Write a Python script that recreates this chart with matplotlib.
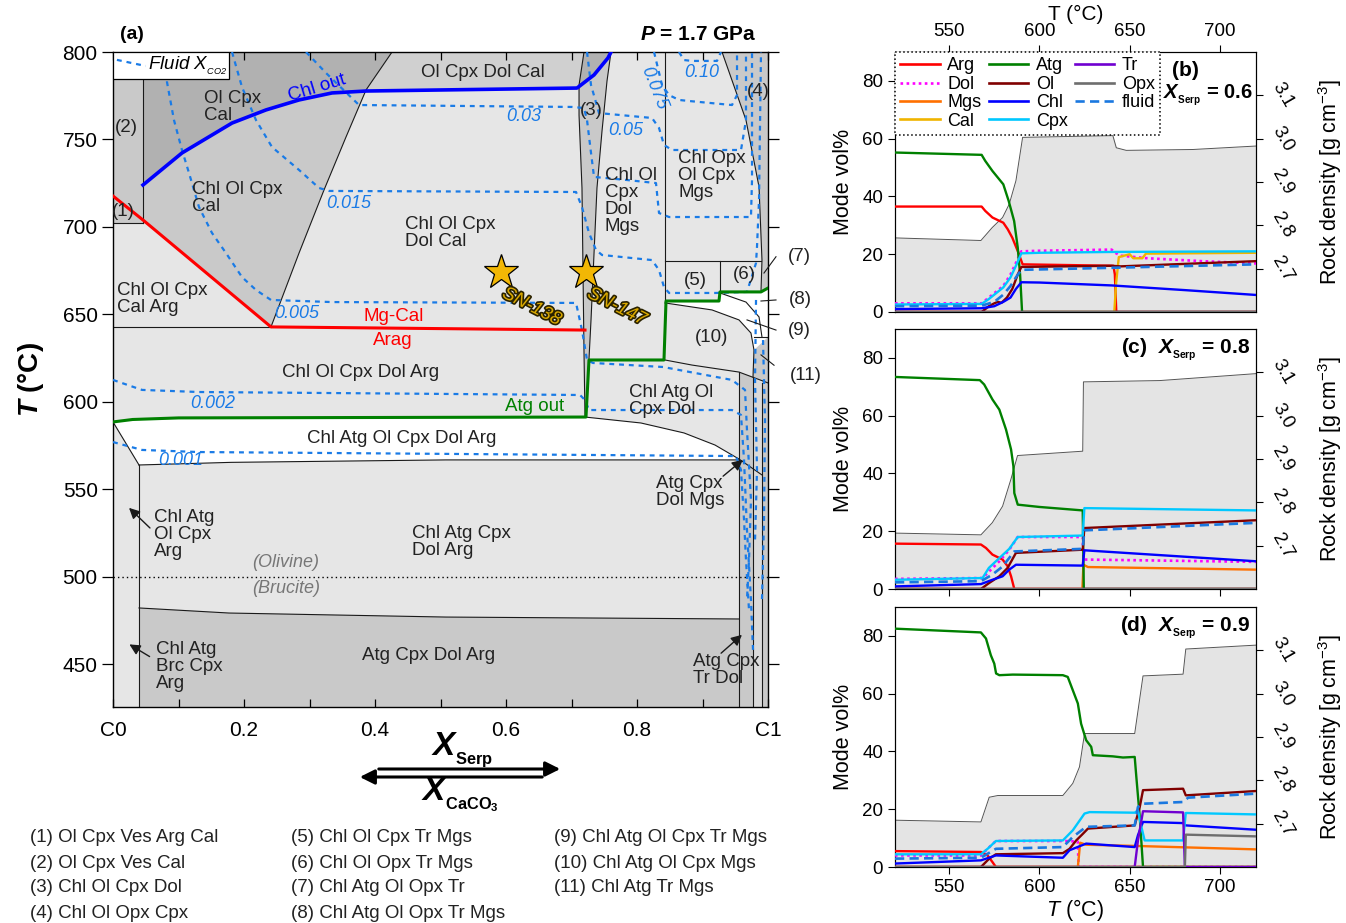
import matplotlib
matplotlib.use('Agg')
import matplotlib.pyplot as plt
import numpy as np
from matplotlib.patches import Polygon, Rectangle
from matplotlib.lines import Line2D
import matplotlib.patheffects as pe

plt.rcParams['font.family'] = ['Liberation Sans', 'DejaVu Sans']
plt.rcParams['mathtext.fontset'] = 'custom'
plt.rcParams['mathtext.rm'] = 'Liberation Sans'
plt.rcParams['mathtext.it'] = 'Liberation Sans:italic'
plt.rcParams['mathtext.bf'] = 'Liberation Sans:bold'
try:
    plt.rcParams['mathtext.bfit'] = 'Liberation Sans:italic:bold'
except KeyError:
    pass

# ---------------- Panel (a) data: phase boundaries (X_Serp, T in degC) ----------------
RED_X = [0.0, 0.0458, 0.2412, 0.7206]
RED_T = [717.7, 704.0, 642.9, 641.1]
BLUE_X = [0.0458, 0.1053, 0.1817, 0.2336, 0.2840, 0.3344, 0.3863, 0.7084, 0.7344, 0.7557, 0.7603]
BLUE_T = [724.0, 742.3, 759.4, 766.9, 772.6, 776.6, 777.7, 779.4, 786.9, 796.6, 800.0]
GREEN_X = [0.0, 0.03, 0.10, 0.7221, 0.7267, 0.8412, 0.8443, 0.9252, 0.9267, 0.9893, 1.0]
GREEN_T = [588.6, 590.0, 590.9, 591.4, 624.0, 624.0, 657.7, 657.7, 662.9, 662.9, 665.1]
DIAG_X = [0.2412, 0.2840, 0.3221, 0.3557, 0.3863, 0.4260]
DIAG_T = [642.9, 685.1, 721.1, 751.4, 778.3, 800.0]
SLIVER_L_X = [0.7191, 0.7115, 0.7115, 0.7160, 0.7191, 0.7206]
SLIVER_L_T = [800.0, 781.1, 764.0, 722.3, 628.0, 591.4]
SLIVER_R_X = [0.7603, 0.7542, 0.7466, 0.7389, 0.7298, 0.7221]
SLIVER_R_T = [800.0, 783.4, 754.9, 722.3, 646.9, 591.4]
ATGCURVE_X = [0.7206, 0.806, 0.8718, 0.9191, 0.9557]
ATGCURVE_T = [591.4, 588.0, 582.3, 575.4, 567.4]
BOT1_X = [0.9557, 0.5084, 0.18, 0.0397]
BOT1_T = [566.9, 566.9, 565.5, 564.0]
BOT2_X = [0.0397, 0.1771, 0.5084, 0.9557]
BOT2_T = [482.3, 479.4, 477.1, 476.0]
TOP10_X = [0.8427, 0.884, 0.9557, 1.0]
TOP10_T = [624.0, 621.1, 617.1, 610.9]
R10_X = [0.8427, 0.9145, 0.9557, 0.9740, 0.9786, 0.9771]
R10_T = [656.6, 652.6, 646.9, 639.4, 629.7, 614.3]
IN89_X = [0.9267, 0.9664, 0.9863, 0.9908]
IN89_T = [662.3, 657.1, 648.6, 637.1]
R4_X = [0.9298, 0.9664, 0.9863, 0.9908, 0.9893]
R4_T = [800.0, 761.1, 722.9, 681.1, 662.9]

# Fluid X_CO2 isopleths
ISO = {
    '0.005': ([0.0855, 0.0824, 0.0931, 0.1053, 0.1160, 0.1313, 0.1511, 0.1725, 0.1969, 0.2183, 0.2412, 0.3344,
               0.7069, 0.7160, 0.7237, 0.7328, 0.8397, 0.9053, 0.9450, 0.9649, 0.9679, 0.9740, 0.9710, 0.9679],
              [800, 782.9, 761.1, 744, 730.9, 711.4, 696.6, 685.1, 671.4, 664, 658.3, 657.1,
               656.6, 641.1, 624, 622.3, 620, 615.4, 612.6, 606.9, 584, 544, 509.7, 486.9]),
    '0.015': ([0.1817, 0.1969, 0.2183, 0.2427, 0.2840, 0.3145, 0.3298, 0.7069, 0.7160, 0.7267, 0.7374, 0.7466,
               0.8229, 0.8336, 0.8412, 0.8489, 0.9206, 0.9679, 0.9817, 0.9832, 0.9863, 0.9893],
              [800, 780, 761.1, 745.7, 732.6, 722.3, 720.6, 720, 711.4, 696.6, 686.9, 684,
               681.1, 675.4, 665.7, 662.3, 662.3, 662.9, 679.4, 688.6, 715.4, 800]),
    '0.03': ([0.2947, 0.3252, 0.3756, 0.7008, 0.7191, 0.7237, 0.7298, 0.7344, 0.7832, 0.8290, 0.8336, 0.8489,
              0.9740, 0.9756, 0.9756],
             [800, 788, 769.7, 768.6, 768, 761.1, 742.3, 728.6, 726.9, 725.1, 708, 705.7, 705.7, 726.9, 800]),
    '0.05': ([0.7237, 0.7298, 0.7420, 0.8229, 0.8336, 0.8412, 0.8534, 0.9588, 0.9664, 0.9664],
             [800, 781.1, 765.1, 762.3, 756.6, 746.9, 744, 744, 761.1, 800]),
    '0.075': ([0.8260, 0.8382, 0.8489, 0.8641, 0.8794, 0.9450, 0.9527, 0.9527],
              [800, 781.1, 775.4, 772.6, 772, 769.7, 775.4, 800]),
    '0.10': ([0.8641, 0.8718, 0.8840, 0.9221, 0.9282], [800, 795.4, 794.9, 794.9, 800]),
    '0.002': ([0.0, 0.0443, 0.1313, 0.7130, 0.7206, 0.7267, 0.9450, 0.9588, 0.9634, 0.9679, 0.9740, 0.9771],
              [612.6, 606.9, 605.7, 604, 601.1, 595.4, 595.4, 592.6, 566.9, 526.9, 486.9, 458.3]),
    '0.001': ([0.0, 0.0443, 0.1313, 0.9511, 0.9588, 0.9634, 0.9664, 0.9710],
              [577.1, 572.6, 571.4, 569.1, 561.1, 532.6, 509.7, 481.1]),
    'x1': ([0.9924, 0.9954, 0.9939, 0.9908], [635.4, 589.7, 532.6, 486.9]),
    'x2': ([0.9817, 0.9802, 0.9832, 0.9802], [658.3, 612.6, 561.1, 521.1]),
}
ISO_LABELS = [('0.005', 0.28, 650.6, 0), ('0.015', 0.36, 713.7, 0), ('0.03', 0.627, 762.9, 0),
              ('0.05', 0.783, 755.4, 0), ('0.075', 0.826, 779.4, -68), ('0.10', 0.899, 788.0, 0),
              ('0.002', 0.153, 599.4, 0), ('0.001', 0.104, 566.3, 0)]

SAMPLES_X = [0.592, 0.722]
SAMPLES_T = [674.3, 674.3]
SAMPLE_NAMES = ['SN-138', 'SN-147']

# ---------------- Panels (b)-(d) data: modes (vol%) vs T ----------------
B_T_ATG = [520, 568, 570, 574, 580, 583, 586, 588, 589.3, 590.4, 720]
B_ATG = [55.2, 54.4, 52.3, 48.8, 44.2, 38.4, 31.5, 22.3, 13, 0, 0]
B_T_ARG = [520, 568, 570, 574, 580, 582.5, 585, 588, 590.7, 641, 641.8, 642.6, 720]
B_ARG = [36.5, 36.5, 35, 32.7, 30.9, 28.6, 25.7, 21.1, 16.5, 16.0, 13, 0, 0]
B_T_DOL = [520, 568, 572, 576, 580, 584, 587, 590, 600, 640, 642, 645, 660, 690, 720]
B_DOL = [3.0, 3.0, 5, 7, 9, 13, 17, 21, 21.2, 21.6, 20.5, 19.5, 18.6, 17.6, 16.8]
B_T_CAL = [520, 641.5, 642.5, 644, 650, 652, 657, 659, 720]
B_CAL = [0, 0, 10, 19, 20, 18.6, 18.6, 20.2, 20.5]
B_T_OL = [520, 568, 572, 575, 577, 579, 582, 585, 588, 590, 640, 645, 720]
B_OL = [0, 0, 2, 3, 3.5, 3.2, 5, 8, 13, 15.6, 16, 15.8, 17.6]
B_T_CHL = [520, 568, 575, 580, 584, 587, 590, 600, 640, 680, 720]
B_CHL = [1.0, 1.3, 2.0, 3.5, 5, 8, 10.3, 10.2, 9.2, 7.6, 5.9]
B_T_CPX = [520, 568, 572, 576, 580, 584, 587, 590, 600, 642, 720]
B_CPX = [2.6, 2.8, 4.5, 6.5, 8.5, 12, 16, 20.3, 20.5, 20.8, 21.0]
B_T_FL = [520, 568, 575, 580, 584, 587, 590, 640, 720]
B_FL = [2.0, 2.2, 3.5, 6, 9, 12, 14.6, 15.3, 16.5]
B_T_RHO = [520, 567.6, 573.9, 579.6, 583.3, 587, 590.7, 640.7, 642.6, 648.1, 685, 720]
B_RHO = [2.771, 2.765, 2.795, 2.818, 2.849, 2.903, 3.003, 3.007, 2.979, 2.973, 2.975, 2.983]

C_T_ATG = [520, 567, 569.4, 574, 577.8, 581.5, 584.3, 585.6, 586.1, 588, 600, 624, 624.6, 720]
C_ATG = [73.4, 72.3, 70.8, 65.6, 62.1, 55.2, 48.3, 42.5, 33.2, 29.2, 28.4, 27.2, 0, 0]
C_T_ARG = [520, 567.6, 570.4, 574, 579.6, 582.4, 584.3, 586.1, 720]
C_ARG = [15.7, 15.4, 14.2, 11.9, 10.2, 7.9, 4.4, 0, 0]
C_T_DOL = [520, 568.5, 572.2, 577.8, 583.3, 588, 624, 624.4, 720]
C_DOL = [3.5, 3.8, 6.1, 9.6, 13.6, 18, 18, 10.2, 9.4]
C_T_MGS = [520, 623.8, 624.4, 626.9, 720]
C_MGS = [0, 0, 8.4, 7.6, 6.7]
C_T_OL = [520, 567.6, 572.2, 577.8, 582.4, 587, 624, 624.9, 720]
C_OL = [0, 0, 2.1, 4.4, 7.3, 12.5, 13.6, 21.1, 23.8]
C_T_CHL = [520, 567.6, 574, 579.6, 583.3, 587, 624, 624.9, 720]
C_CHL = [0.9, 1.7, 3.2, 4.4, 6.7, 8.4, 8.1, 13.4, 9.6]
C_T_CPX = [520, 568.5, 572, 577.8, 583.3, 588, 624, 624.9, 720]
C_CPX = [3.2, 3.8, 7.3, 10.7, 13.9, 18, 18.5, 28, 27.2]
C_T_FL = [520, 567.6, 574, 579.6, 586.1, 624, 624.9, 720]
C_FL = [2.3, 2.7, 5, 7.8, 13, 13.9, 20.3, 22.9]
C_T_RHO = [520, 567.6, 573.9, 579.6, 584.2, 587.9, 624, 624.4, 666.7, 720]
C_RHO = [2.729, 2.725, 2.753, 2.791, 2.853, 2.908, 2.918, 3.078, 3.081, 3.097]

D_T_ATG = [520, 567.6, 570.4, 573.1, 575, 576, 577.8, 585.2, 613, 615.7, 618.5, 621.3, 623.1, 625.9,
           628.7, 629.6, 640.7, 646.3, 652.8, 653.7, 655.6, 657.4, 720]
D_ATG = [82.5, 81.2, 79.1, 73.3, 70.4, 67, 66.4, 66.6, 66.4, 65.8, 61.2, 56.6, 49.6, 43.9,
         41.6, 38.7, 38.3, 37.9, 38.1, 31.2, 17.3, 0, 0]
D_T_ARG = [520, 567.6, 571.3, 574, 575.9, 720]
D_ARG = [5.5, 5.2, 4.0, 1.7, 0, 0]
D_T_DOL = [520, 567.6, 571.3, 575.9, 613.9, 621.3, 621.7, 720]
D_DOL = [4.0, 4.0, 6.3, 9.0, 9.0, 8.8, 0, 0]
D_T_MGS = [520, 621.3, 622.6, 625.9, 652.8, 720]
D_MGS = [0, 0, 8.4, 7.7, 7.3, 6.1]
D_T_OL = [520, 567.6, 572.2, 575.9, 613, 616.7, 620.4, 624.1, 626.9, 652.8, 655.6, 657.4, 679.6, 681.1, 720]
D_OL = [0, 0, 2.9, 4.4, 4.8, 6.3, 9.2, 11.5, 13.3, 14.4, 20.8, 26.6, 27.1, 24.8, 26.3]
D_T_CHL = [520, 567.6, 575.9, 613, 616.7, 625.9, 652.8, 654.6, 657.4, 679.6, 681.1, 720]
D_CHL = [1.2, 2.3, 4.0, 3.2, 5.8, 8.1, 6.9, 11, 15.6, 15.2, 14.4, 12.9]
D_T_CPX = [520, 567.6, 571.3, 575.9, 613, 618.5, 625, 627.8, 652.8, 654.6, 656.5, 658.3, 679.6, 681.1, 720]
D_CPX = [4.4, 4.4, 6.3, 9.0, 9.2, 12.7, 18.5, 19, 18.8, 19.6, 13.9, 9.2, 9.2, 18.7, 18.2]
D_T_TR = [520, 652.8, 654.6, 657.4, 679.6, 680.6, 720]
D_TR = [0, 0, 9.2, 19.3, 18.9, 0, 0]
D_T_OPX = [520, 680.6, 681.1, 720]
D_OPX = [0, 0, 11.2, 10.6]
D_T_FL = [520, 567.6, 575.9, 613, 618.5, 625.9, 652.8, 654.6, 657.4, 679.6, 682.4, 720]
D_FL = [2.9, 3.2, 6.3, 6.9, 10.4, 13.9, 14.4, 20.8, 21.9, 22.5, 24, 25.4]
D_T_RHO = [520, 567.6, 572.2, 577, 613, 618.5, 622.2, 625, 652.8, 657.4, 679.6, 681.1, 720]
D_RHO = [2.708, 2.704, 2.761, 2.765, 2.765, 2.793, 2.831, 2.908, 2.908, 3.041, 3.045, 3.103, 3.112]

T_FULL = [520, 720]
ZERO = [0, 0]

SPECIES = ['Arg', 'Dol', 'Mgs', 'Cal', 'Atg', 'Ol', 'Chl', 'Cpx', 'Tr', 'Opx', 'fluid']
COLORS = {'Arg': '#ff0000', 'Dol': '#ff00ff', 'Mgs': '#ff7000', 'Cal': '#f0b400', 'Atg': '#008000',
          'Ol': '#800000', 'Chl': '#0000ff', 'Cpx': '#00c8ff', 'Tr': '#7000d0', 'Opx': '#6e6e6e',
          'fluid': '#1a78e0'}
STYLES = {'Dol': (0, (1, 1.3)), 'fluid': (0, (3.5, 2))}

PANEL_B = {'Arg': (B_T_ARG, B_ARG), 'Dol': (B_T_DOL, B_DOL), 'Mgs': (T_FULL, ZERO), 'Cal': (B_T_CAL, B_CAL),
           'Atg': (B_T_ATG, B_ATG), 'Ol': (B_T_OL, B_OL), 'Chl': (B_T_CHL, B_CHL), 'Cpx': (B_T_CPX, B_CPX),
           'Tr': (T_FULL, ZERO), 'Opx': (T_FULL, ZERO), 'fluid': (B_T_FL, B_FL)}
PANEL_C = {'Arg': (C_T_ARG, C_ARG), 'Dol': (C_T_DOL, C_DOL), 'Mgs': (C_T_MGS, C_MGS), 'Cal': (T_FULL, ZERO),
           'Atg': (C_T_ATG, C_ATG), 'Ol': (C_T_OL, C_OL), 'Chl': (C_T_CHL, C_CHL), 'Cpx': (C_T_CPX, C_CPX),
           'Tr': (T_FULL, ZERO), 'Opx': (T_FULL, ZERO), 'fluid': (C_T_FL, C_FL)}
PANEL_D = {'Arg': (D_T_ARG, D_ARG), 'Dol': (D_T_DOL, D_DOL), 'Mgs': (D_T_MGS, D_MGS), 'Cal': (T_FULL, ZERO),
           'Atg': (D_T_ATG, D_ATG), 'Ol': (D_T_OL, D_OL), 'Chl': (D_T_CHL, D_CHL), 'Cpx': (D_T_CPX, D_CPX),
           'Tr': (D_T_TR, D_TR), 'Opx': (D_T_OPX, D_OPX), 'fluid': (D_T_FL, D_FL)}

FOOTNOTES = [['(1) Ol Cpx Ves Arg Cal', '(2) Ol Cpx Ves Cal', '(3) Chl Ol Cpx Dol', '(4) Chl Ol Opx Cpx'],
             ['(5) Chl Ol Cpx Tr Mgs', '(6) Chl Ol Opx Tr Mgs', '(7) Chl Atg Ol Opx Tr', '(8) Chl Atg Ol Opx Tr Mgs'],
             ['(9) Chl Atg Ol Cpx Tr Mgs', '(10) Chl Atg Ol Cpx Mgs', '(11) Chl Atg Tr Mgs']]

XSERP = r'$\mathbfit{X}_{{}_{\mathbf{Serp}}}$'
XCACO3 = r'$\mathbfit{X}_{{}_{\mathbf{CaCO_3}}}$'

# ---------------- figure ----------------
W, H = 1346, 923
fig = plt.figure(figsize=(W / 100, H / 100), dpi=100)


def fx(px):
    return px / W


def fy(py):
    return 1 - py / H


LIGHT = '#e6e6e6'
MED = '#c9c9c9'
MED2 = '#d0d0d0'
DARK = '#b1b1b1'
STRIP = '#dadada'
ISO_C = '#1a7be6'

axA = fig.add_axes([fx(113), fy(707), 655 / W, 655 / H])
axA.set_xlim(0, 1)
axA.set_ylim(425.7, 800)
axA.set_facecolor(LIGHT)


def poly(xs, ts, color, z=1):
    axA.add_patch(Polygon(np.column_stack([xs, ts]), closed=True, fc=color, ec='none', zorder=z))


def line(xs, ts, **kw):
    d = dict(color='#1a1a1a', lw=0.8, zorder=2)
    d.update(kw)
    axA.plot(xs, ts, **d)


# regions
poly([0, 0.0458, 0.0458, 0], [702.3, 702.3, 800, 800], MED)
poly(BLUE_X[:7] + [DIAG_X[-1], 0.0458], BLUE_T[:7] + [800, 800], DARK)
poly(RED_X[1:3] + DIAG_X[1:5] + BLUE_X[5::-1], RED_T[1:3] + DIAG_T[1:5] + BLUE_T[5::-1], MED)
poly(DIAG_X[4:] + [SLIVER_L_X[0], SLIVER_L_X[1], BLUE_X[7], BLUE_X[6]],
     DIAG_T[4:] + [800, SLIVER_L_T[1], BLUE_T[7], BLUE_T[6]], MED2)
poly(SLIVER_L_X + SLIVER_R_X[::-1], SLIVER_L_T + SLIVER_R_T[::-1], MED)
poly([0.7115, 0.7344, 0.7557, 0.7603, 0.7191], [779.4, 786.9, 796.6, 800, 800], DARK)
poly(GREEN_X[:4] + ATGCURVE_X + BOT1_X + [0.0], GREEN_T[:4] + ATGCURVE_T + BOT1_T + [588.6], 'white')
poly([0.0397] + BOT2_X + [0.9557], [425.7] + BOT2_T + [425.7], MED)
poly([0.9557, 0.9771, 0.9771, 0.9557], [425.7, 425.7, 614.3, 617.1], MED)
poly([0.9771, 0.9908, 0.9908, 0.9771], [425.7, 425.7, 610.9, 614.3], STRIP)
poly([0.9908, 1.0, 1.0, 0.9908], [425.7, 425.7, 800, 800], MED)
poly(R4_X[:4] + [1.0, 1.0], R4_T[:4] + [681.1, 800], MED)
poly([0.9786, 1.0, 1.0, 0.9771], [637.1, 637.1, 610.9, 614.3], MED)
poly(R10_X[:5] + [1.0, 1.0] + GREEN_X[:5:-1] + [0.8427],
     R10_T[:5] + [637.1, 665.1] + GREEN_T[:5:-1] + [657.7], 'white')

# boundary lines
line([0.0458, 0.0458], [702.3, 800])
line([0, 0.0458], [702.3, 702.3])
line([0, 0.2412], [642.9, 642.9])
line(DIAG_X, DIAG_T)
line(SLIVER_L_X, SLIVER_L_T)
line(SLIVER_R_X, SLIVER_R_T)
line([0.8427, 0.8427], [657.7, 800])
line([0.8427, 0.9893], [680.6, 680.6])
line([0.9267, 0.9267], [662.9, 680.6])
line(R4_X, R4_T)
line(ATGCURVE_X, ATGCURVE_T)
line(BOT1_X, BOT1_T)
line(BOT2_X, BOT2_T)
line([0.0, 0.0397], [588.6, 564.0])
line([0.0397, 0.0397], [425.7, 564.0])
line(TOP10_X, TOP10_T)
line(R10_X, R10_T)
line(IN89_X, IN89_T)
line([0.9786, 1.0], [637.1, 637.1])
line([0.9557, 0.9557], [425.7, 617.1])
line([0.9771, 0.9771], [425.7, 614.3])
line([0.9908, 0.9908], [425.7, 610.9])
line([0.9557, 0.9908], [567.4, 558.3])
line([0, 1], [500, 500], ls=(0, (1, 2.2)), lw=1.0, color='black')

# isopleths
for key, (xs, ts) in ISO.items():
    axA.plot(xs, ts, color=ISO_C, lw=1.6, ls=(0, (2.2, 2.2)), zorder=3)
for lab, x, t, rot in ISO_LABELS:
    axA.text(x, t, lab, color=ISO_C, style='italic', fontsize=13, ha='center', va='center',
             rotation=rot, zorder=5)

# reaction lines
axA.plot(RED_X, RED_T, color='#ff0000', lw=2.2, zorder=4)
axA.plot(BLUE_X, BLUE_T, color='#0000ff', lw=2.6, zorder=4)
axA.plot(GREEN_X, GREEN_T, color='#008000', lw=2.2, zorder=4)

# samples
axA.plot(SAMPLES_X, SAMPLES_T, ls='none', marker='*', ms=26, mfc='#f2b705', mec='black', mew=0.9, zorder=6)
for x, t, name in zip(SAMPLES_X, SAMPLES_T, SAMPLE_NAMES):
    axA.text(x + 0.047, t - 20, name, style='italic', fontsize=13.5, color='#d9a800', rotation=-27,
             ha='center', va='center', zorder=6,
             path_effects=[pe.Stroke(linewidth=2.4, foreground='#2a2200'), pe.Normal()])

# field labels
LBL = dict(fontsize=13.5, color='#222222', zorder=5, va='center', linespacing=1.0)
axA.text(0.139, 768.6, 'Ol Cpx\nCal', ha='left', **LBL)
axA.text(0.1206, 716.6, 'Chl Ol Cpx\nCal', ha='left', **LBL)
axA.text(0.565, 788.0, 'Ol Cpx Dol Cal', ha='center', **LBL)
axA.text(0.4458, 696.3, 'Chl Ol Cpx\nDol Cal', ha='left', **LBL)
axA.text(0.0061, 658.6, 'Chl Ol Cpx\nCal Arg', ha='left', **LBL)
axA.text(0.0198, 757.1, '(2)', ha='center', **LBL)
axA.text(0.0160, 708.6, '(1)', ha='center', **LBL)
axA.text(0.730, 766.3, '(3)', ha='center', **LBL)
axA.text(0.751, 714.9, 'Chl Ol\nCpx\nDol\nMgs', ha='left', **LBL)
axA.text(0.8626, 729.7, 'Chl Opx\nOl Cpx\nMgs', ha='left', **LBL)
axA.text(0.9847, 777.7, '(4)', ha='center', **LBL)
axA.text(0.8885, 669.7, '(5)', ha='center', **LBL)
axA.text(0.9634, 673.1, '(6)', ha='center', **LBL)
axA.text(0.9145, 636.6, '(10)', ha='center', **LBL)
axA.text(0.3786, 616.6, 'Chl Ol Cpx Dol Arg', ha='center', **LBL)
axA.text(0.441, 578.9, 'Chl Atg Ol Cpx Dol Arg', ha='center', **LBL)
axA.text(0.7878, 600.6, 'Chl Atg Ol\nCpx Dol', ha='left', **LBL)
axA.text(0.0626, 524.0, 'Chl Atg\nOl Cpx\nArg', ha='left', **LBL)
axA.text(0.4565, 520.0, 'Chl Atg Cpx\nDol Arg', ha='left', **LBL)
axA.text(0.829, 548.6, 'Atg Cpx\nDol Mgs', ha='left', **LBL)
axA.text(0.0656, 449.1, 'Chl Atg\nBrc Cpx\nArg', ha='left', **LBL)
axA.text(0.4824, 454.9, 'Atg Cpx Dol Arg', ha='center', **LBL)
axA.text(0.8855, 446.9, 'Atg Cpx\nTr Dol', ha='left', **LBL)
axA.text(0.2641, 508.0, '(Olivine)', ha='center', va='center', style='italic', fontsize=13, color='#777777', zorder=5)
axA.text(0.2641, 493.7, '(Brucite)', ha='center', va='center', style='italic', fontsize=13, color='#777777', zorder=5)
axA.text(0.429, 649.1, 'Mg-Cal', ha='center', va='center', fontsize=13.5, color='#ff0000', zorder=5)
axA.text(0.4275, 635.4, 'Arag', ha='center', va='center', fontsize=13.5, color='#ff0000', zorder=5)
axA.text(0.311, 779.4, 'Chl out', ha='center', va='center', fontsize=13.5, color='#0000ff', rotation=17, zorder=5)
axA.text(0.644, 597.7, 'Atg out', ha='center', va='center', fontsize=13.5, color='#008000', zorder=5)

# outside labels with leader lines
for lab, x, t, x1, t1, x2, t2 in [('(7)', 1.0305, 683.4, 1.0122, 683.0, 0.9939, 673.7),
                                  ('(8)', 1.032, 658.3, 1.0122, 658.3, 0.9893, 657.7),
                                  ('(9)', 1.0305, 641.1, 1.0122, 641.1, 0.968, 646.9),
                                  ('(11)', 1.0336, 614.9, 1.0092, 621.0, 0.9893, 626.9)]:
    axA.text(x, t, lab, ha='left', va='center', fontsize=13.5, color='#222222', clip_on=False)
    axA.plot([x1, x2], [t1, t2], color='#1a1a1a', lw=0.8, clip_on=False, zorder=7)

# arrows to narrow fields
for (x1, t1, x2, t2) in [(0.0595, 526.9, 0.0214, 540.6), (0.0595, 453.7, 0.0214, 462.3),
                         (0.9282, 556.6, 0.9649, 568.0), (0.9252, 455.4, 0.9634, 468.0)]:
    axA.annotate('', xy=(x2, t2), xytext=(x1, t1),
                 arrowprops=dict(arrowstyle='-|>', color='#1a1a1a', lw=1.0, mutation_scale=16), zorder=7)

# fluid XCO2 key
axA.add_patch(Rectangle((0.0, 784.6), 0.177, 15.4, fc='white', ec='black', lw=0.9, zorder=8))
axA.plot([0.006, 0.05], [795.5, 792.0], color=ISO_C, lw=1.6, ls=(0, (2.2, 2.2)), zorder=9)
axA.text(0.053, 792.3, r'Fluid $X_{{}_{\mathregular{CO2}}}$', style='italic', fontsize=13.5, va='center',
         ha='left', zorder=9)

# axes styling
for sp in axA.spines.values():
    sp.set_linewidth(1.0)
axA.set_xticks([0, 0.2, 0.4, 0.6, 0.8, 1.0])
axA.set_xticklabels(['C0', '0.2', '0.4', '0.6', '0.8', 'C1'])
axA.set_xticks(np.arange(0.1, 1.0, 0.1), minor=True)
axA.tick_params(axis='x', which='both', direction='in', top=True, bottom=True, length=6, width=0.9,
                labelsize=15, pad=10)
axA.set_yticks(np.arange(450, 801, 50))
axA.tick_params(axis='y', which='both', direction='out', left=True, right=True, length=8, width=0.9,
                labelsize=15, pad=3)
axA.set_ylabel(r'$\mathbfit{T}$ (°C)', fontsize=20, fontweight='bold', labelpad=12)
axA.text(0.011, 1.026, '(a)', transform=axA.transAxes, fontsize=14, fontweight='bold', ha='left', va='center')
axA.text(0.982, 1.026, r'$\mathbfit{P}$ = 1.7 GPa', transform=axA.transAxes, fontsize=15, fontweight='bold',
         ha='right', va='center')

# X_Serp / X_CaCO3 arrows
fig.text(fx(462), fy(750), XSERP, fontsize=24, ha='center', va='center')
fig.text(fx(460), fy(795), XCACO3, fontsize=24, ha='center', va='center')
fig.add_artist(matplotlib.patches.FancyArrowPatch(posA=(fx(376), fy(769)), posB=(fx(563), fy(769)),
                                                  transform=fig.transFigure, arrowstyle='-|>',
                                                  mutation_scale=22, lw=2.2, color='black'))
fig.add_artist(matplotlib.patches.FancyArrowPatch(posA=(fx(545), fy(777)), posB=(fx(357), fy(777)),
                                                  transform=fig.transFigure, arrowstyle='-|>',
                                                  mutation_scale=22, lw=2.2, color='black'))

# footnotes
for col, xpx in zip(FOOTNOTES, [30, 291, 554]):
    for i, s in enumerate(col):
        fig.text(fx(xpx), fy(838 + i * 25), s, fontsize=13.5, ha='left', va='center', color='#222222')


# ---------------- panels (b)-(d) ----------------
def mode_panel(top_px, data, rho_T, rho, title, two_line=False, xlab='none'):
    ax = fig.add_axes([fx(895), fy(top_px + 260), 361 / W, 260 / H])
    ax2 = ax.twinx()
    ax2.fill_between(rho_T, 2.6, rho, color='#e4e4e4', lw=0, zorder=1)
    ax2.plot(rho_T, rho, color='#555555', lw=0.7, zorder=2)
    ax2.set_ylim(2.6, 3.2)
    ax2.set_yticks([2.7, 2.8, 2.9, 3.0, 3.1])
    ax2.set_yticklabels(['2.7', '2.8', '2.9', '3.0', '3.1'], rotation=-60, ha='left', va='center')
    ax2.tick_params(axis='y', direction='out', length=5, labelsize=13.5, pad=4)
    ax2.set_ylabel('Rock density [g cm$^{-3}$]', fontsize=15.5, labelpad=14)
    ax.set_zorder(ax2.get_zorder() + 1)
    ax.patch.set_visible(False)
    for sp in SPECIES:
        T, v = data[sp]
        ax.plot(T, v, color=COLORS[sp], lw=1.7 if sp not in STYLES else 1.9,
                ls=STYLES.get(sp, '-'), label=sp, zorder=3)
    ax.set_xlim(520, 720)
    ax.set_ylim(0, 90)
    ax.set_yticks([0, 20, 40, 60, 80])
    ax.set_xticks([550, 600, 650, 700])
    ax.tick_params(axis='both', direction='out', length=5, labelsize=13.5)
    ax.set_ylabel('Mode vol%', fontsize=15.5, labelpad=6)
    if xlab == 'top':
        ax.xaxis.tick_top()
        ax.xaxis.set_label_position('top')
        ax.set_xlabel('T (°C)', fontsize=15, labelpad=2)
    elif xlab == 'bottom':
        ax.set_xlabel(r'$\mathit{T}$ (°C)', fontsize=15.5, labelpad=1)
    else:
        ax.tick_params(axis='x', labelbottom=False)
    if two_line:
        ax.text(0.768, 0.93, '(b)', transform=ax.transAxes, fontsize=15, fontweight='bold',
                ha='left', va='center', zorder=10)
        ax.text(0.99, 0.835, XSERP + ' = 0.6', transform=ax.transAxes, fontsize=14.5,
                fontweight='bold', ha='right', va='center', zorder=10)
    else:
        ax.text(0.985, 0.92, title, transform=ax.transAxes, fontsize=15, fontweight='bold',
                ha='right', va='center', zorder=10)
    return ax


axB = mode_panel(52, PANEL_B, B_T_RHO, B_RHO, '', two_line=True, xlab='top')
handles = [Line2D([], [], color=COLORS[s], lw=1.9, ls=STYLES.get(s, '-')) for s in SPECIES]
leg = axB.legend(handles, SPECIES, ncol=3, loc='upper left', bbox_to_anchor=(0, 1), borderaxespad=0,
                 fontsize=13, handlelength=2.2, handletextpad=0.4, columnspacing=0.4, labelspacing=0.08,
                 borderpad=0.3, fancybox=False, framealpha=1, edgecolor='black')
leg.get_frame().set_linestyle(':')
leg.get_frame().set_linewidth(1.1)
leg.set_zorder(9)
axC = mode_panel(329, PANEL_C, C_T_RHO, C_RHO, '(c)  ' + XSERP + ' = 0.8')
axD = mode_panel(607, PANEL_D, D_T_RHO, D_RHO, '(d)  ' + XSERP + ' = 0.9', xlab='bottom')

fig.savefig('out.png', dpi=100)
